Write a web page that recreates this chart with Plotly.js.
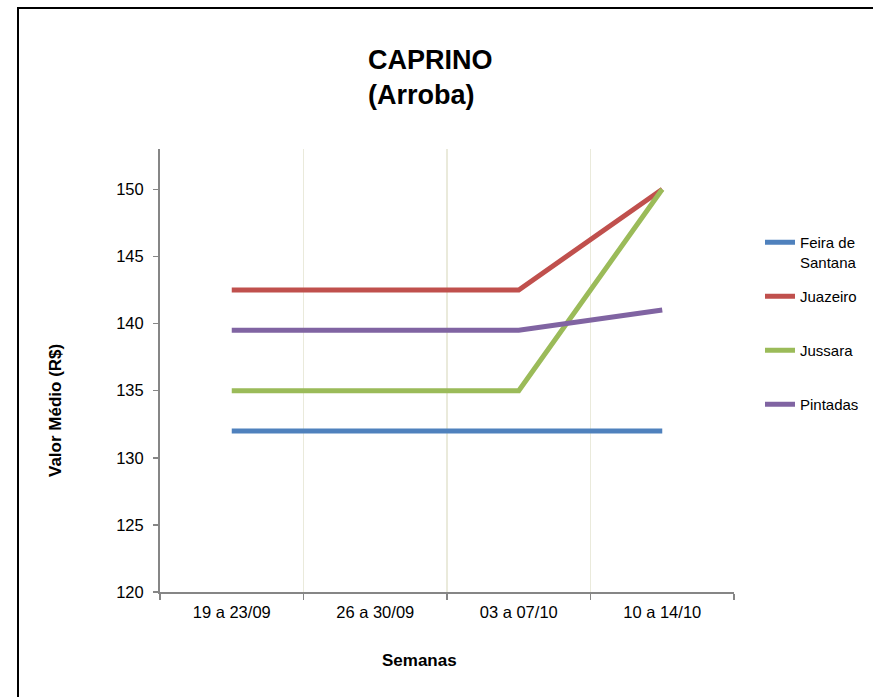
<!DOCTYPE html>
<html>
<head>
<meta charset="utf-8">
<script src="https://cdn.plot.ly/plotly-3.0.1.min.js"></script>
<style>html,body{margin:0;padding:0;background:#fff;}#chart{width:873px;height:697px;}</style>
</head>
<body>
<div id="chart"></div>
<script>
const semanas = ["19 a 23/09", "26 a 30/09", "03 a 07/10", "10 a 14/10"];
const seriesNames = ["Feira de<br>Santana", "Juazeiro<br>&nbsp;", "Jussara<br>&nbsp;", "Pintadas<br>&nbsp;"];
const feiraDeSantana = [132, 132, 132, 132];
const juazeiro = [142.5, 142.5, 142.5, 150];
const jussara = [135, 135, 135, 150];
const pintadas = [139.5, 139.5, 139.5, 141];
const yTicks = [120, 125, 130, 135, 140, 145, 150];

const colors = ["#4F81BD", "#C0504D", "#9BBB59", "#8064A2"];
const values = [feiraDeSantana, juazeiro, jussara, pintadas];

const traces = values.map((v, i) => ({
  x: semanas, y: v, type: "scatter", mode: "lines",
  name: seriesNames[i], legendgroup: "g" + i,
  line: {color: colors[i], width: 5},
  hoverinfo: "x+y"
}));

const L = 160, R = 734, T = 149, B = 592, W = 873, H = 697;
const px = x => (x - L) / (R - L);
const py = y => (B - y) / (B - T);

const layout = {
  width: W, height: H,
  margin: {l: L, r: W - R, t: T, b: H - B, autoexpand: false},
  paper_bgcolor: "#fff", plot_bgcolor: "#fff",
  font: {family: "Liberation Sans, Arial, sans-serif", color: "#000"},
  title: {
    text: "<b>CAPRINO</b><br><b>(Arroba)</b>",
    font: {size: 27, family: "Liberation Sans, Arial, sans-serif", color: "#000"},
    xref: "container", x: 368 / W, xanchor: "left",
    yref: "container", y: 1 - 69 / H, yanchor: "top"
  },
  xaxis: {
    type: "category", range: [-0.5, 3.5],
    tickson: "boundaries", ticks: "outside", ticklen: 6, tickcolor: "#868686", tickwidth: 1.5,
    showgrid: true, gridcolor: "#EAEADB", gridwidth: 1.5,
    showline: true, linecolor: "#868686", linewidth: 2,
    tickfont: {size: 16.5}, ticklabelstandoff: 4,
    zeroline: false, fixedrange: true
  },
  yaxis: {
    range: [120, 153], tickvals: yTicks,
    ticks: "outside", ticklen: 5, tickcolor: "#868686", tickwidth: 1.5,
    showgrid: false, zeroline: false,
    showline: true, linecolor: "#868686", linewidth: 2,
    tickfont: {size: 16.5}, ticklabelstandoff: 6, fixedrange: true
  },
  showlegend: true,
  legend: {
    x: px(760), xanchor: "left", y: py(226), yanchor: "top",
    font: {size: 15}, valign: "top", tracegroupgap: 12,
    bgcolor: "rgba(0,0,0,0)", traceorder: "grouped"
  },
  annotations: [
    {text: "<b>Semanas</b>", xref: "paper", yref: "paper", x: px(419), y: py(660),
     xanchor: "center", yanchor: "middle", showarrow: false, font: {size: 17}},
    {text: "<b>Valor Médio (R$)</b>", xref: "paper", yref: "paper", x: px(55), y: py(411),
     xanchor: "center", yanchor: "middle", textangle: -90, showarrow: false, font: {size: 17}}
  ],
  shapes: [
    {type: "rect", xref: "paper", yref: "paper", x0: px(18), x1: px(920), y0: py(740), y1: py(8),
     line: {color: "#000", width: 2}, fillcolor: "rgba(0,0,0,0)", layer: "below"}
  ]
};

Plotly.newPlot("chart", traces, layout, {displayModeBar: false, staticPlot: true});
</script>
</body>
</html>
